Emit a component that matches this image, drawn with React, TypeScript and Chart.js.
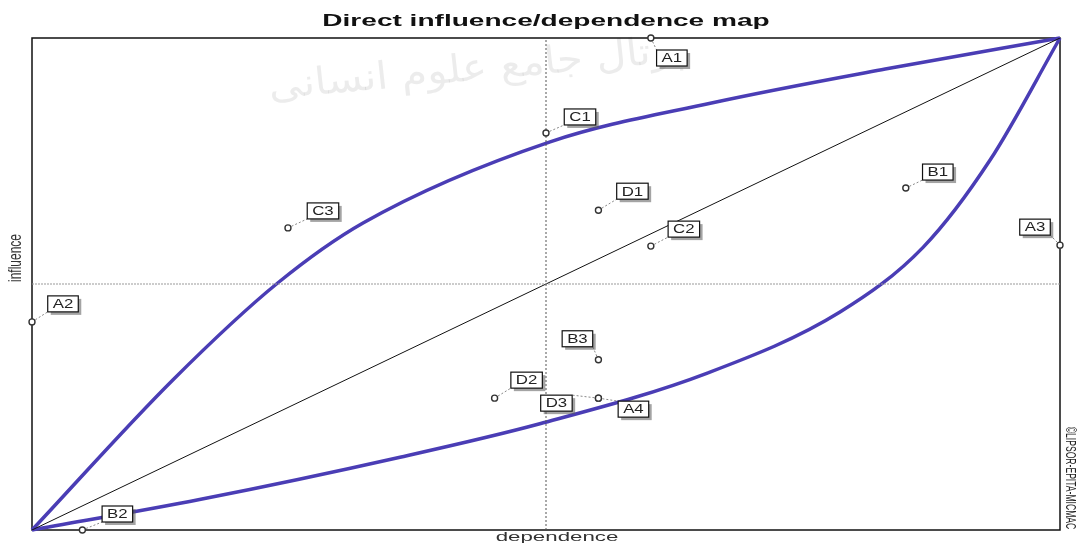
import React, { useEffect, useRef } from "react";
import { Chart, registerables } from "chart.js";

Chart.register(...registerables);

// variables of the MICMAC direct influence/dependence map
const variables = ["A1", "C1", "C3", "D1", "B1", "C2", "A3", "A2", "B3", "D2", "D3", "A4", "B2"];
const dependence = [60.2, 50.0, 24.9, 55.1, 85.0, 60.2, 100, 0, 55.1, 45.0, 55.1, 55.1, 4.9];
const influence = [100, 80.7, 61.4, 65.0, 69.5, 57.7, 57.9, 42.3, 34.6, 26.8, 26.8, 26.8, 0];

// label box offsets from the marker (px)
const labelOffsets: [number, number][] = [
  [21, 20], [34, -16], [35, -17], [34, -19], [32, -16], [33, -17], [-25, -18],
  [31, -18], [-21, -21], [32, -18], [-42, 5], [35, 11], [35, -16],
];

// the two blue boundary curves
const upperDependence = [0, 13.7, 23.9, 32.2, 50.4, 66.1, 83.0, 100];
const upperInfluence = [0, 30.5, 50.2, 62.4, 78.9, 86.8, 93.7, 100];
const lowerDependence = [0, 16.3, 35.8, 49.4, 65.7, 78.6, 86.7, 93.2, 100];
const lowerInfluence = [0, 6.2, 14.8, 21.6, 31.9, 44.3, 57.5, 75.2, 100];

const axisMin = 0;
const axisMax = 100;
const axisMid = 50;

const BLUE = "#4a3db5";
const FONT = "'Liberation Sans', Arial, sans-serif";
const STRETCH = 1.65;

const pts = (xs: number[], ys: number[]) => xs.map((x, i) => ({ x, y: ys[i] }));

function drawText(
  ctx: CanvasRenderingContext2D,
  text: string,
  x: number,
  y: number,
  font: string,
  color: string,
  angle = 0,
  sx = STRETCH,
  align: CanvasTextAlign = "center",
  baseline: CanvasTextBaseline = "alphabetic"
) {
  ctx.save();
  ctx.translate(x, y);
  ctx.scale(sx, 1);
  ctx.rotate(angle);
  ctx.font = font;
  ctx.fillStyle = color;
  ctx.textAlign = align;
  ctx.textBaseline = baseline;
  ctx.fillText(text, 0, 0);
  ctx.restore();
}

const micmacPlugin = {
  id: "micmac",
  beforeDatasetsDraw(chart: any) {
    const { ctx, chartArea: a } = chart;
    // faint watermark of the source
    ctx.save();
    ctx.globalAlpha = 0.11;
    drawText(ctx, "پرتال جامع علوم انسانی", 478, 80, `38px 'DejaVu Sans'`, "#555", -0.1, 1.1);
    ctx.restore();
    // frame
    ctx.save();
    ctx.strokeStyle = "#111";
    ctx.lineWidth = 1.5;
    ctx.strokeRect(a.left, a.top, a.right - a.left, a.bottom - a.top);
    ctx.restore();
    // titles
    drawText(ctx, "Direct influence/dependence map", (a.left + a.right) / 2, 26, `bold 17px ${FONT}`, "#111");
    drawText(ctx, "dependence", 557, 541, `13.5px ${FONT}`, "#333");
    drawText(ctx, "influence", 21, 258, `12px ${FONT}`, "#333", -Math.PI / 2, 1.5);
    drawText(ctx, "©LIPSOR-EPITA-MICMAC", 1066, 478, `8.6px ${FONT}`, "#222", Math.PI / 2, 1.6);
  },
  afterDatasetsDraw(chart: any) {
    const { ctx, scales } = chart;
    const xs = scales.x;
    const ys = scales.y;
    variables.forEach((name, i) => {
      const px = xs.getPixelForValue(dependence[i]);
      const py = ys.getPixelForValue(influence[i]);
      const [dx, dy] = labelOffsets[i];
      ctx.save();
      ctx.font = `12px ${FONT}`;
      const w = ctx.measureText(name).width * 1.4 + 10;
      const h = 16;
      const cx = px + dx;
      const cy = py + dy;
      const left = cx - w / 2;
      const top = cy - h / 2;
      // leader to nearest corner
      const corners = [
        [left, top], [left + w, top], [left, top + h], [left + w, top + h],
      ];
      let best = corners[0];
      let bd = Infinity;
      corners.forEach((c) => {
        const d = (c[0] - px) ** 2 + (c[1] - py) ** 2;
        if (d < bd) {
          bd = d;
          best = c;
        }
      });
      ctx.strokeStyle = "#888";
      ctx.lineWidth = 1;
      ctx.setLineDash([2, 2]);
      ctx.beginPath();
      ctx.moveTo(px, py);
      ctx.lineTo(best[0], best[1]);
      ctx.stroke();
      ctx.setLineDash([]);
      // shadow, box
      ctx.fillStyle = "rgba(90,90,90,0.55)";
      ctx.fillRect(left + 3, top + 3, w, h);
      ctx.fillStyle = "#fff";
      ctx.fillRect(left, top, w, h);
      ctx.strokeStyle = "#111";
      ctx.lineWidth = 1.2;
      ctx.strokeRect(left, top, w, h);
      ctx.restore();
      drawText(ctx, name, cx, cy + 1, `12px ${FONT}`, "#222", 0, 1.4, "center", "middle");
      // marker on top
      ctx.save();
      ctx.beginPath();
      ctx.arc(px, py, 3, 0, Math.PI * 2);
      ctx.fillStyle = "#fff";
      ctx.fill();
      ctx.strokeStyle = "#333";
      ctx.lineWidth = 1.4;
      ctx.stroke();
      ctx.restore();
    });
  },
};

export default function App() {
  const ref = useRef<HTMLCanvasElement>(null!);

  useEffect(() => {
    const chart = new Chart(ref.current, {
      type: "scatter",
      data: {
        datasets: [
          {
            data: pts([axisMid, axisMid], [axisMin, axisMax]),
            showLine: true,
            borderColor: "#555",
            borderWidth: 1,
            borderDash: [2, 2],
            pointRadius: 0,
          },
          {
            data: pts([axisMin, axisMax], [axisMid, axisMid]),
            showLine: true,
            borderColor: "#999",
            borderWidth: 1,
            borderDash: [2, 1],
            pointRadius: 0,
          },
          {
            data: pts([axisMin, axisMax], [axisMin, axisMax]),
            showLine: true,
            borderColor: "#111",
            borderWidth: 1,
            pointRadius: 0,
          },
          {
            data: pts(upperDependence, upperInfluence),
            showLine: true,
            borderColor: BLUE,
            borderWidth: 3.5,
            cubicInterpolationMode: "monotone",
            pointRadius: 0,
            clip: false,
          },
          {
            data: pts(lowerDependence, lowerInfluence),
            showLine: true,
            borderColor: BLUE,
            borderWidth: 3.5,
            cubicInterpolationMode: "monotone",
            pointRadius: 0,
            clip: false,
          },
        ],
      },
      options: {
        animation: false,
        responsive: true,
        maintainAspectRatio: false,
        layout: { padding: { left: 32, top: 38, right: 21, bottom: 13 } },
        scales: {
          x: { type: "linear", min: axisMin, max: axisMax, display: false },
          y: { type: "linear", min: axisMin, max: axisMax, display: false },
        },
        plugins: {
          legend: { display: false },
          tooltip: { enabled: false },
        },
      },
      plugins: [micmacPlugin],
    } as any);
    return () => {
      chart.destroy();
    };
  }, []);

  return (
    <div style={{ position: "fixed", left: 0, top: 0, width: 1081, height: 543, background: "#fff" }}>
      <canvas ref={ref} />
    </div>
  );
}
